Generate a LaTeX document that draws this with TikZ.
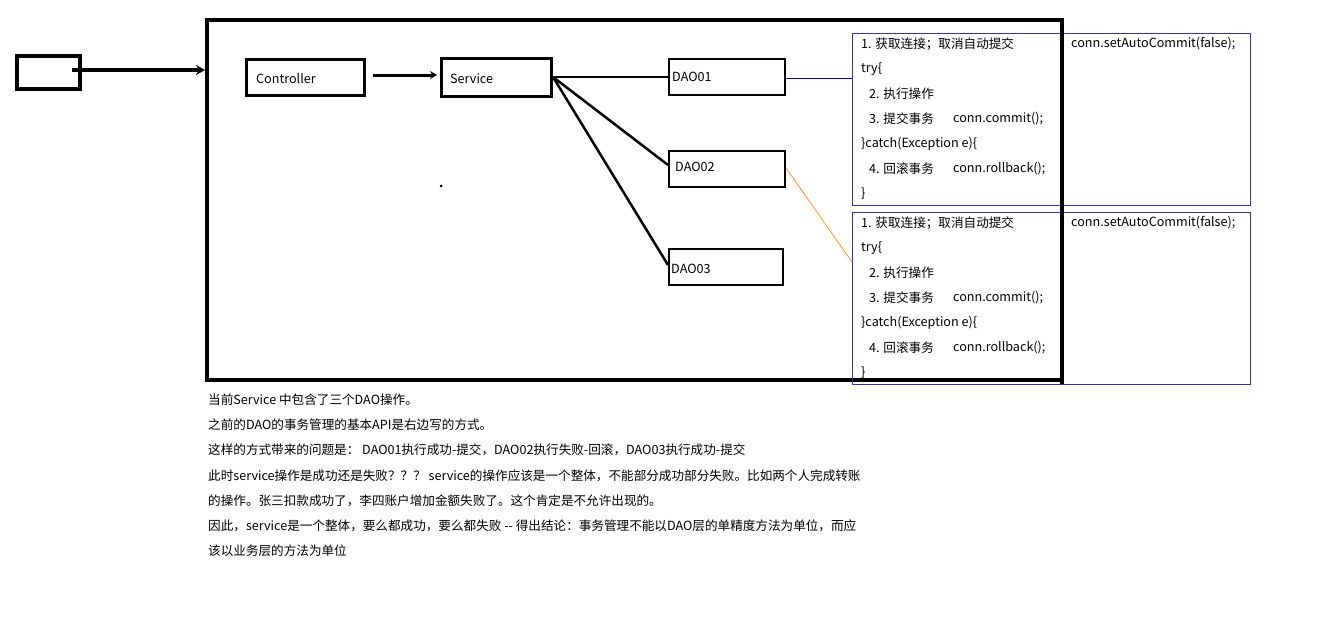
\documentclass[tikz,border=0pt]{standalone}
\usepackage{fontspec}
\setmainfont{Noto Sans CJK SC}
\usetikzlibrary{arrows.meta}
\tikzset{
    heavy/.style={line width=3.5pt},
    daobox/.style={draw,line width=2pt,minimum width=116pt,minimum height=36pt,anchor=north west,inner sep=0pt},
    txt/.style={anchor=west,inner sep=0pt,font=\fontsize{12.6}{14}\selectfont},
    txbox/.style={draw=blue!70!black!80,line width=0.8pt}
}
\begin{document}
\begin{tikzpicture}[x=1pt,y=-1pt]

                \useasboundingbox (0,0) rectangle (1341,637);
                \fill[white] (0,0) rectangle (1341,637);

                % outer frames
                \draw [heavy] (17,56) rectangle (80,89);
                \draw [heavy] (207,20) rectangle (1062,380);
                \coordinate (src) at (72,70);
                \coordinate (frm) at (205,70);
                \draw [heavy,-{Stealth[length=9pt,width=10pt]}] (src)--(frm);

                % layers
                \node (ctrl) [daobox,line width=3pt,minimum width=118pt] at (245,58) {};
                \node [txt] at (256,79) {Controller};
                \node (svc) [daobox,line width=3pt,minimum width=110pt,minimum height=38pt] at (440,57) {};
                \node [txt] at (450,79) {Service};
                \draw [heavy,line width=3pt,-{Stealth[length=7pt,width=8pt]}] (373,75)--(437,75);

                \node (d1) [daobox] at (668,58) {};
                \node (d2) [daobox] at (668,150) {};
                \node (d3) [daobox,minimum width=114pt] at (668,248) {};
                \node [txt] at (672,77) {DAO01};
                \node [txt] at (675,167) {DAO02};
                \node [txt] at (671,269) {DAO03};

                \coordinate (s) at (553,77);
                \draw [line width=2.5pt] (s)--(d1.west);
                \draw [line width=2.5pt] (s)--(668,165);
                \draw [line width=2.5pt] (s)--(668,265);
                \fill (441,186) circle (1.5pt);

                % transaction boxes
                \foreach \top/\name in {33/ta,212/tb}{
                    \draw [txbox] (852,\top) rectangle (1250,\top+172);
                    \node [txt] at (861,\top+11) {1. 获取连接；取消自动提交};
                    \node [txt] at (1071,\top+11) {conn.setAutoCommit(false);};
                    \node [txt] at (861,\top+36) {try\{};
                    \node [txt] at (869,\top+61) {2. 执行操作};
                    \node [txt] at (869,\top+86) {3. 提交事务};
                    \node [txt] at (953,\top+86) {conn.commit();};
                    \node [txt] at (861,\top+111) {\}catch(Exception e)\{};
                    \node [txt] at (869,\top+136) {4. 回滚事务};
                    \node [txt] at (953,\top+136) {conn.rollback();};
                    \node [txt] at (861,\top+161) {\}};
                }
                \draw [heavy] (1062,20)--(1062,384);
                \draw [blue!80!black,line width=0.6pt] (d1.east |- 0,78)--(852,78);
                \draw [orange,line width=0.6pt] (786,168)--(852,262);

                % notes
                \foreach \y/\t in {400/{当前Service 中包含了三个DAO操作。},
                    425/{之前的DAO的事务管理的基本API是右边写的方式。},
                    450/{这样的方式带来的问题是： DAO01执行成功-提交，DAO02执行失败-回滚，DAO03执行成功-提交},
                    476/{此时service操作是成功还是失败？？？ service的操作应该是一个整体，不能部分成功部分失败。比如两个人完成转账},
                    501/{的操作。张三扣款成功了，李四账户增加金额失败了。这个肯定是不允许出现的。},
                    526/{因此，service是一个整体，要么都成功，要么都失败 {-}{-} 得出结论：事务管理不能以DAO层的单精度方法为单位，而应},
                    551/{该以业务层的方法为单位}}{
                    \node [txt] at (208,\y) {\t};
                }
\end{tikzpicture}
\end{document}
